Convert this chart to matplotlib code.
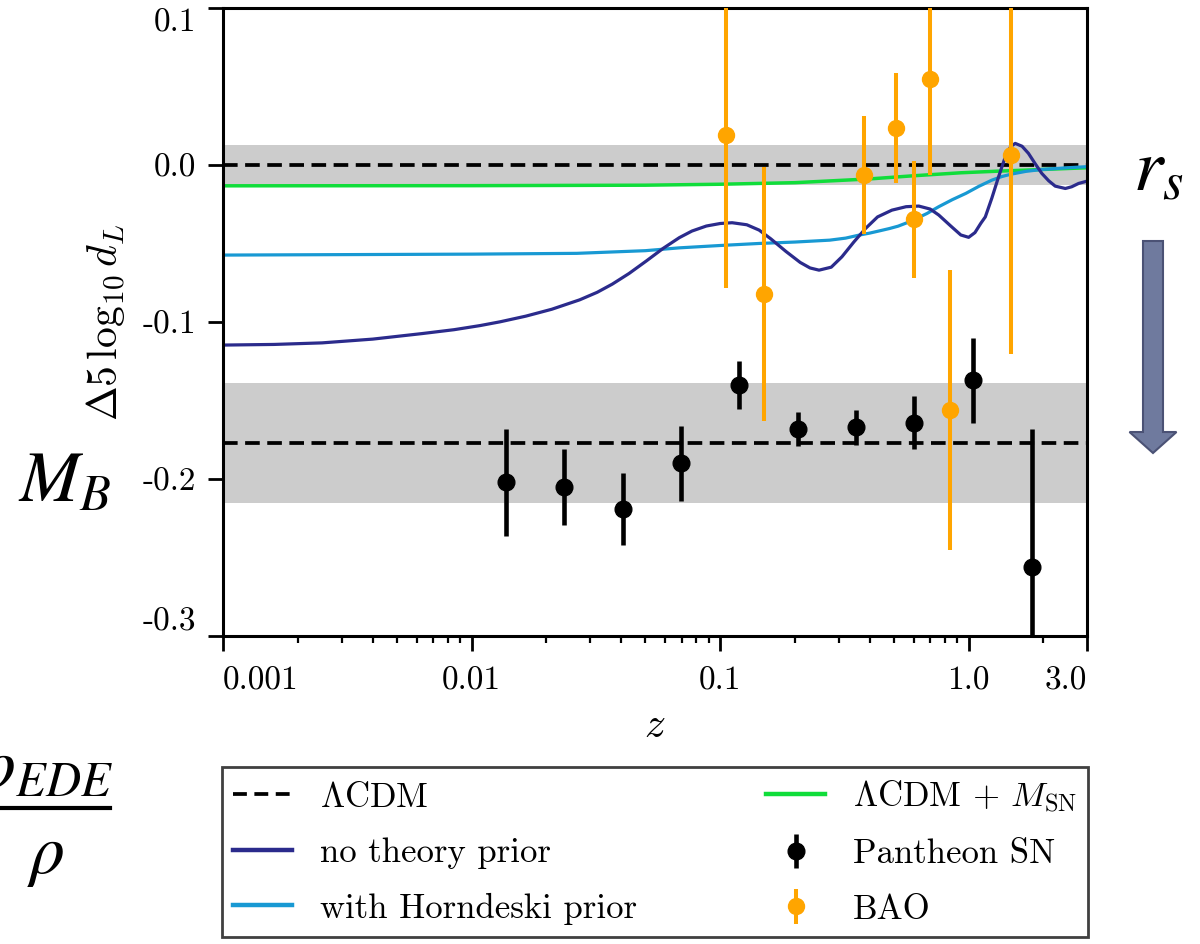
import numpy as np
import matplotlib

matplotlib.use("Agg")
import matplotlib.pyplot as plt
from matplotlib.patches import FancyArrow
from matplotlib.lines import Line2D
from matplotlib.ticker import FixedLocator, FixedFormatter, LogLocator, NullFormatter

plt.rcParams.update({
    "font.family": "serif",
    "font.serif": ["cmr10"],
    "mathtext.fontset": "cm",
    "axes.unicode_minus": False,
})

# residual curves w.r.t. LCDM, Delta 5 log10 d_L
z_free = [0.001, 0.0016, 0.0025, 0.004, 0.0063, 0.0085, 0.0108, 0.013, 0.0165, 0.021,
          0.0272, 0.032, 0.0368, 0.043, 0.0505, 0.059, 0.0685, 0.077, 0.088, 0.100,
          0.1117, 0.128, 0.1435, 0.160, 0.184, 0.210, 0.230, 0.250, 0.280,
          0.309, 0.345, 0.385, 0.430, 0.491, 0.560, 0.630, 0.700, 0.758, 0.850,
          0.930, 1.000, 1.060, 1.120, 1.167, 1.240, 1.320, 1.420, 1.480, 1.540, 1.640,
          1.740, 1.850, 1.970, 2.100, 2.230, 2.450, 2.600, 2.770, 3.000]
d_free = [-0.1146, -0.1142, -0.1132, -0.1108, -0.1073, -0.1048, -0.1022, -0.0998, -0.0962, -0.0918,
          -0.0858, -0.0810, -0.0758, -0.0690, -0.0610, -0.0530, -0.0462, -0.0420, -0.0388, -0.0372,
          -0.0367, -0.0380, -0.0414, -0.0470, -0.0550, -0.0620, -0.0655, -0.0669, -0.0650,
          -0.0584, -0.0490, -0.0403, -0.0330, -0.0287, -0.0265, -0.0261, -0.0280, -0.0318, -0.0390,
          -0.0445, -0.0460, -0.0430, -0.0370, -0.0330, -0.0210, -0.0074, 0.0075, 0.0120, 0.0138, 0.0120,
          0.0075, 0.0010, -0.0053, -0.0100, -0.0134, -0.0149, -0.0138, -0.0117, -0.0102]

z_horn = [0.001, 0.01, 0.0265, 0.05, 0.0685, 0.1, 0.1435, 0.2, 0.276, 0.32, 0.362, 0.40,
          0.44, 0.48, 0.52, 0.565, 0.61, 0.68, 0.758, 0.86, 0.975, 1.1, 1.24, 1.36, 1.49,
          1.7, 1.97, 2.5, 3.0]
d_horn = [-0.0573, -0.0567, -0.0562, -0.0545, -0.0527, -0.0512, -0.0499, -0.0490, -0.0478,
          -0.0465, -0.0446, -0.0433, -0.0418, -0.0404, -0.0389, -0.0367, -0.0344, -0.0308,
          -0.0265, -0.0220, -0.0180, -0.0135, -0.0096, -0.0073, -0.0057, -0.0040, -0.0028,
          -0.0017, -0.0010]

z_msn = [0.001, 0.01, 0.05, 0.1, 0.2, 0.4, 0.6, 0.93, 1.3, 1.7, 2.3, 3.0]
d_msn = [-0.0132, -0.0131, -0.0128, -0.0122, -0.0112, -0.0088, -0.0068, -0.0049,
         -0.0039, -0.0032, -0.0024, -0.0017]

# binned Pantheon SN
z_sn = [0.0137, 0.0236, 0.0405, 0.0693, 0.119, 0.205, 0.353, 0.605, 1.04, 1.80]
d_sn = [-0.202, -0.205, -0.219, -0.190, -0.140, -0.168, -0.167, -0.164, -0.137, -0.256]
e_sn = [0.034, 0.024, 0.023, 0.024, 0.015, 0.011, 0.011, 0.017, 0.027, 0.088]

# BAO
z_bao = [0.106, 0.150, 0.378, 0.508, 0.604, 0.698, 0.840, 1.48]
d_bao = [0.019, -0.082, -0.0064, 0.0234, -0.0346, 0.0550, -0.156, 0.0064]
e_bao = [0.097, 0.081, 0.0375, 0.035, 0.037, 0.061, 0.089, 0.127]

# LCDM reference levels and their bands
lcdm_top, lcdm_top_err = 0.0, 0.0125
lcdm_mb, lcdm_mb_err = -0.177, 0.038

y_ticks = [0.1, 0.0, -0.1, -0.2, -0.3]
y_labels = ["0.1", "0.0", "-0.1", "-0.2", "-0.3"]
x_ticks = [0.001, 0.01, 0.1, 1.0, 3.0]
x_labels = ["0.001", "0.01", "0.1", "1.0", "3.0"]

C_FREE = "#2b2b8c"
C_HORN = "#1899d3"
C_MSN = "#10dd3a"
C_BAO = "#ffa500"
C_BAND = "#cccccc"
DASH = (3.9, 2.0)

fig = plt.figure(figsize=(12, 9.44), dpi=100)
ax = fig.add_axes([0.186, 0.326, 0.72, 0.6655])

ax.axhspan(lcdm_top - lcdm_top_err, lcdm_top + lcdm_top_err, color=C_BAND, lw=0, zorder=0)
ax.axhspan(lcdm_mb - lcdm_mb_err, lcdm_mb + lcdm_mb_err, color=C_BAND, lw=0, zorder=0)
ax.axhline(lcdm_top, color="k", lw=2.7, dashes=DASH, zorder=1)
ax.axhline(lcdm_mb, color="k", lw=2.7, dashes=DASH, zorder=1)

ax.plot(z_msn, d_msn, color=C_MSN, lw=2.5, zorder=2)
ax.plot(z_horn, d_horn, color=C_HORN, lw=2.3, zorder=2)
ax.plot(z_free, d_free, color=C_FREE, lw=2.3, zorder=2)

ax.errorbar(z_sn, d_sn, yerr=e_sn, fmt="o", color="k", ms=12, elinewidth=3.3,
            capsize=0, zorder=4)
ax.errorbar(z_bao, d_bao, yerr=e_bao, fmt="o", color=C_BAO, ms=11.5, elinewidth=2.9,
            capsize=0, zorder=3)

ax.set_xscale("log")
ax.set_xlim(0.001, 3.0)
ax.set_ylim(-0.3, 0.1)
ax.xaxis.set_major_locator(FixedLocator(x_ticks))
ax.xaxis.set_major_formatter(FixedFormatter(x_labels))
ax.xaxis.set_minor_locator(LogLocator(base=10, subs=np.arange(2, 10)))
ax.xaxis.set_minor_formatter(NullFormatter())
ax.yaxis.set_major_locator(FixedLocator(y_ticks))
ax.yaxis.set_major_formatter(FixedFormatter(y_labels))

for s in ax.spines.values():
    s.set_linewidth(2.2)
ax.tick_params(which="major", length=10.5, width=2.0, labelsize=24)
ax.tick_params(axis="y", pad=9)
ax.tick_params(axis="x", pad=11)
ax.tick_params(which="minor", length=5, width=1.6)

ax.set_xlabel(r"$z$", fontsize=30, labelpad=9)
ax.set_ylabel(r"$\Delta 5\,\log_{10} d_L$", fontsize=30, labelpad=11)

# end labels sit inside the axis range
xt = ax.xaxis.get_major_ticks()
xt[0].label1.set_horizontalalignment("left")
xt[-1].label1.set_horizontalalignment("right")
yt = ax.yaxis.get_major_ticks()
yt[0].label1.set_verticalalignment("top")
yt[-1].label1.set_verticalalignment("bottom")

handles = [
    Line2D([], [], color="k", lw=2.7, dashes=(3.7, 2.0)),
    Line2D([], [], color=C_FREE, lw=3.2),
    Line2D([], [], color=C_HORN, lw=3.2),
    Line2D([], [], color=C_MSN, lw=3.2),
    ax.containers[0],
    ax.containers[1],
]
labels = [
    r"$\Lambda$CDM",
    "no theory prior",
    "with Horndeski prior",
    r"$\Lambda$CDM + $M_{\rm SN}$",
    "Pantheon SN",
    "BAO",
]
leg = fig.legend(handles, labels, loc="upper left", ncol=2, mode="expand",
                 bbox_to_anchor=(0.185, 0.0, 0.722, 0.1875), borderaxespad=0,
                 fontsize=25, fancybox=False, framealpha=1, edgecolor="0.25",
                 labelspacing=0.68, handlelength=1.7, handletextpad=0.8,
                 borderpad=0.32)
leg.get_frame().set_linewidth(2.0)

# side annotations
fig.text(1158 / 1200, 1 - 172 / 944, r"$r_s$", fontsize=54, math_fontfamily="stix",
         ha="center", va="center")
fig.text(65 / 1200, 1 - 483 / 944, r"$M_B$", fontsize=52, math_fontfamily="stix",
         ha="center", va="center")
fig.text(46 / 1200, 1 - 772 / 944, r"$\rho_{EDE}$", fontsize=50, math_fontfamily="stix",
         ha="center", va="center")
fig.add_artist(Line2D([-0.02, 110 / 1200], [1 - 808 / 944, 1 - 808 / 944],
                      transform=fig.transFigure, color="k", lw=3))
fig.text(46 / 1200, 1 - 858 / 944, r"$\rho$", fontsize=50, math_fontfamily="stix",
         ha="center", va="center")
fig.add_artist(FancyArrow(11.53, 9.44 - 2.41, 0, -2.12, width=0.2, head_width=0.47,
                          head_length=0.21, length_includes_head=True,
                          transform=fig.dpi_scale_trans, fc="#6f7a9e", ec="#4b5275",
                          lw=1.5))

fig.savefig("out.png", dpi=100)
